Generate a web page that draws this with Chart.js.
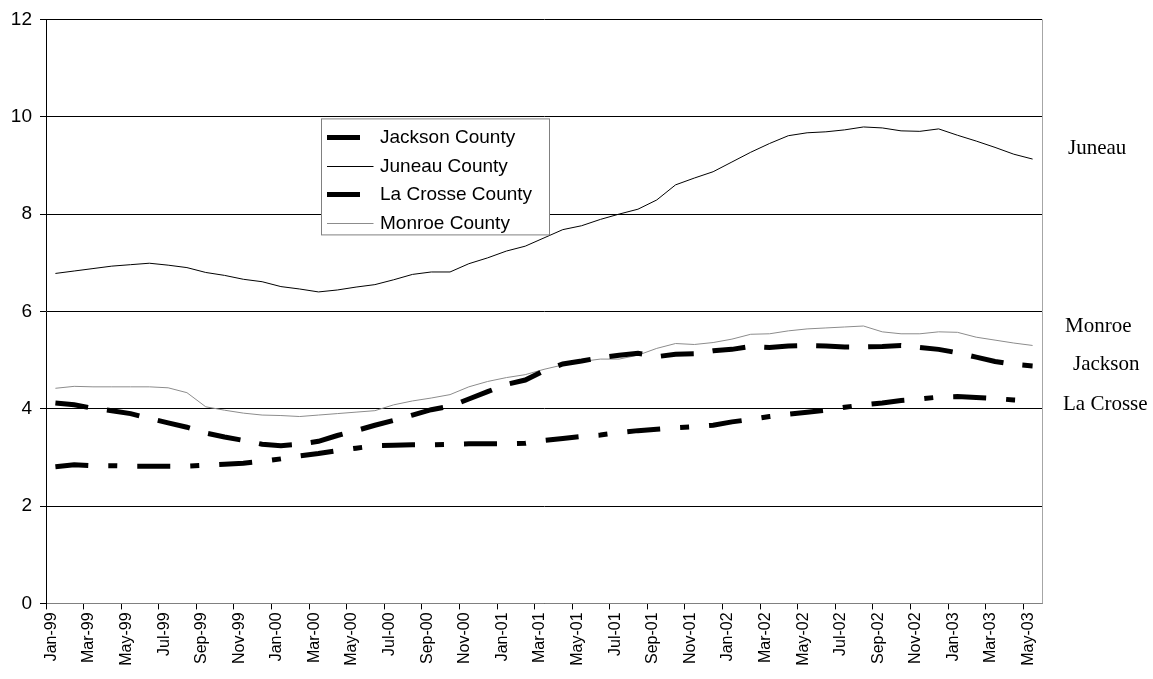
<!DOCTYPE html>
<html>
<head>
<meta charset="utf-8">
<script src="https://cdn.jsdelivr.net/npm/chart.js@4.4.1/dist/chart.umd.min.js"></script>
<style>
  html, body { margin: 0; padding: 0; background: #ffffff; }
  #wrap { width: 1153px; height: 679px; position: relative; }
</style>
</head>
<body>
<div id="wrap"><canvas id="c" width="1153" height="679"></canvas></div>
<script>
// Monthly unemployment rate (%) by county, Jan-99 to May-03
const months = [
  'Jan-99','Feb-99','Mar-99','Apr-99','May-99','Jun-99','Jul-99','Aug-99','Sep-99','Oct-99','Nov-99','Dec-99',
  'Jan-00','Feb-00','Mar-00','Apr-00','May-00','Jun-00','Jul-00','Aug-00','Sep-00','Oct-00','Nov-00','Dec-00',
  'Jan-01','Feb-01','Mar-01','Apr-01','May-01','Jun-01','Jul-01','Aug-01','Sep-01','Oct-01','Nov-01','Dec-01',
  'Jan-02','Feb-02','Mar-02','Apr-02','May-02','Jun-02','Jul-02','Aug-02','Sep-02','Oct-02','Nov-02','Dec-02',
  'Jan-03','Feb-03','Mar-03','Apr-03','May-03'
];

const jackson = [
  4.12, 4.08, 4.01, 3.96, 3.90, 3.80, 3.71, 3.62, 3.50, 3.42, 3.35, 3.27,
  3.24, 3.27, 3.33, 3.45, 3.55, 3.66, 3.76, 3.87, 3.98, 4.05, 4.20, 4.35,
  4.50, 4.59, 4.78, 4.92, 4.98, 5.05, 5.10, 5.14, 5.07, 5.12, 5.13, 5.19,
  5.22, 5.28, 5.26, 5.29, 5.30, 5.29, 5.27, 5.27, 5.28, 5.30, 5.26, 5.22,
  5.15, 5.06, 4.97, 4.91, 4.88
];

const juneau = [
  6.78, 6.83, 6.88, 6.93, 6.96, 6.99, 6.95, 6.90, 6.80, 6.74, 6.66, 6.61,
  6.51, 6.46, 6.40, 6.44, 6.50, 6.55, 6.65, 6.76, 6.81, 6.81, 6.98, 7.10,
  7.24, 7.34, 7.51, 7.68, 7.76, 7.89, 8.00, 8.10, 8.29, 8.60, 8.74, 8.87,
  9.07, 9.27, 9.45, 9.61, 9.67, 9.69, 9.73, 9.79, 9.77, 9.71, 9.70, 9.75,
  9.62, 9.50, 9.37, 9.23, 9.13
];

const laCrosse = [
  2.81, 2.85, 2.83, 2.83, 2.82, 2.82, 2.82, 2.82, 2.84, 2.86, 2.88, 2.92,
  2.97, 3.03, 3.08, 3.14, 3.19, 3.24, 3.25, 3.26, 3.26, 3.27, 3.28, 3.28,
  3.28, 3.29, 3.35, 3.39, 3.43, 3.46, 3.51, 3.55, 3.58, 3.61, 3.63, 3.66,
  3.73, 3.78, 3.84, 3.89, 3.93, 3.97, 4.03, 4.08, 4.12, 4.17, 4.20, 4.24,
  4.25, 4.23, 4.21, 4.18, 4.16
];

const monroe = [
  4.42, 4.46, 4.45, 4.45, 4.45, 4.45, 4.43, 4.33, 4.04, 3.97, 3.91, 3.87,
  3.86, 3.84, 3.87, 3.90, 3.93, 3.96, 4.08, 4.16, 4.22, 4.29, 4.45, 4.56,
  4.64, 4.70, 4.81, 4.90, 4.97, 5.02, 5.02, 5.10, 5.24, 5.34, 5.32, 5.36,
  5.43, 5.53, 5.54, 5.60, 5.64, 5.66, 5.68, 5.70, 5.58, 5.54, 5.54, 5.58,
  5.57, 5.47, 5.41, 5.35, 5.30
];

const seriesNames = ['Jackson County', 'Juneau County', 'La Crosse County', 'Monroe County'];
const endLabels = [
  { text: 'Juneau',    value: 9.35, dx: 26 },
  { text: 'Monroe',    value: 5.70, dx: 23 },
  { text: 'Jackson',   value: 4.90, dx: 31 },
  { text: 'La Crosse', value: 4.08, dx: 21 }
];

const SANS = '"Liberation Sans", Arial, sans-serif';
const SERIF = '"Liberation Serif", "Times New Roman", serif';

// Boxed legend drawn inside the plot area
const boxLegend = {
  id: 'boxLegend',
  afterDatasetsDraw(chart) {
    const ctx = chart.ctx;
    const a = chart.chartArea;
    const left = a.left + 275.5, top = a.top + 99.5, w = 228, h = 116;
    ctx.save();
    ctx.fillStyle = '#ffffff';
    ctx.fillRect(left, top, w, h);
    ctx.strokeStyle = '#808080';
    ctx.lineWidth = 1;
    ctx.strokeRect(left, top, w, h);
    ctx.font = '19px ' + SANS;
    ctx.textBaseline = 'middle';
    ctx.textAlign = 'left';
    chart.data.datasets.forEach((ds, i) => {
      const y = top + 18 + i * 28.6;
      const yy = Math.round(y) + (ds.borderWidth % 2 ? 0.5 : 0);
      ctx.save();
      ctx.strokeStyle = ds.borderColor;
      ctx.lineWidth = ds.borderWidth;
      ctx.setLineDash(ds.borderDash || []);
      ctx.lineCap = 'butt';
      ctx.beginPath();
      ctx.moveTo(left + 5.5, yy);
      ctx.lineTo(left + 52, yy);
      ctx.stroke();
      ctx.restore();
      ctx.fillStyle = '#000000';
      ctx.fillText(ds.label, left + 58.5, y + 1);
    });
    ctx.restore();
  }
};

// Right-hand border and county names beside the plot
const sideText = {
  id: 'sideText',
  afterDraw(chart) {
    const ctx = chart.ctx;
    const a = chart.chartArea;
    const ys = chart.scales.y;
    ctx.save();
    ctx.strokeStyle = '#a6a6a6';
    ctx.lineWidth = 1;
    ctx.beginPath();
    ctx.moveTo(Math.round(a.right) + 0.5, a.top);
    ctx.lineTo(Math.round(a.right) + 0.5, a.bottom);
    ctx.stroke();
    ctx.font = '21px ' + SERIF;
    ctx.fillStyle = '#000000';
    ctx.textBaseline = 'middle';
    ctx.textAlign = 'left';
    endLabels.forEach(l => {
      ctx.fillText(l.text, a.right + l.dx, ys.getPixelForValue(l.value));
    });
    ctx.restore();
  }
};

new Chart(document.getElementById('c'), {
  type: 'line',
  data: {
    labels: months,
    datasets: [
      { label: seriesNames[0], data: jackson,  borderColor: '#000000', borderWidth: 5, borderDash: [33, 19] },
      { label: seriesNames[1], data: juneau,   borderColor: '#000000', borderWidth: 1 },
      { label: seriesNames[2], data: laCrosse, borderColor: '#000000', borderWidth: 5, borderDash: [33, 20, 9, 20] },
      { label: seriesNames[3], data: monroe,   borderColor: '#8c8c8c', borderWidth: 1 }
    ]
  },
  options: {
    responsive: false,
    animation: false,
    devicePixelRatio: 1,
    layout: { padding: { top: 17, right: 111, left: 0, bottom: 0 } },
    elements: {
      point: { radius: 0, hoverRadius: 0 },
      line: { tension: 0, fill: false, borderCapStyle: 'butt', borderJoinStyle: 'miter' }
    },
    plugins: {
      legend: { display: false },
      tooltip: { enabled: false }
    },
    scales: {
      x: {
        type: 'category',
        offset: true,
        grid: {
          offset: true,
          drawOnChartArea: false,
          tickLength: 6,
          color: c => (c.index !== undefined && c.index % 2 === 0) ? '#000000' : 'rgba(0,0,0,0)',
          tickColor: c => (c.index !== undefined && c.index % 2 === 0) ? '#000000' : 'rgba(0,0,0,0)'
        },
        border: { color: '#808080', width: 1 },
        ticks: {
          autoSkip: false,
          minRotation: 90,
          maxRotation: 90,
          padding: 3,
          labelOffset: -4,
          color: '#000000',
          font: { family: SANS, size: 16 },
          callback: (v, i) => (i % 2 === 0 ? months[i] : '')
        },
        afterFit: s => { s.height = 75.6; }
      },
      y: {
        min: 0,
        max: 12,
        ticks: {
          stepSize: 2,
          padding: 8,
          color: '#000000',
          font: { family: SANS, size: 19 }
        },
        grid: { color: '#000000', tickColor: '#000000', tickLength: 6, lineWidth: 1 },
        border: { color: '#000000', width: 1 },
        afterFit: s => { s.width = 46; }
      }
    }
  },
  plugins: [boxLegend, sideText]
});
</script>
</body>
</html>
